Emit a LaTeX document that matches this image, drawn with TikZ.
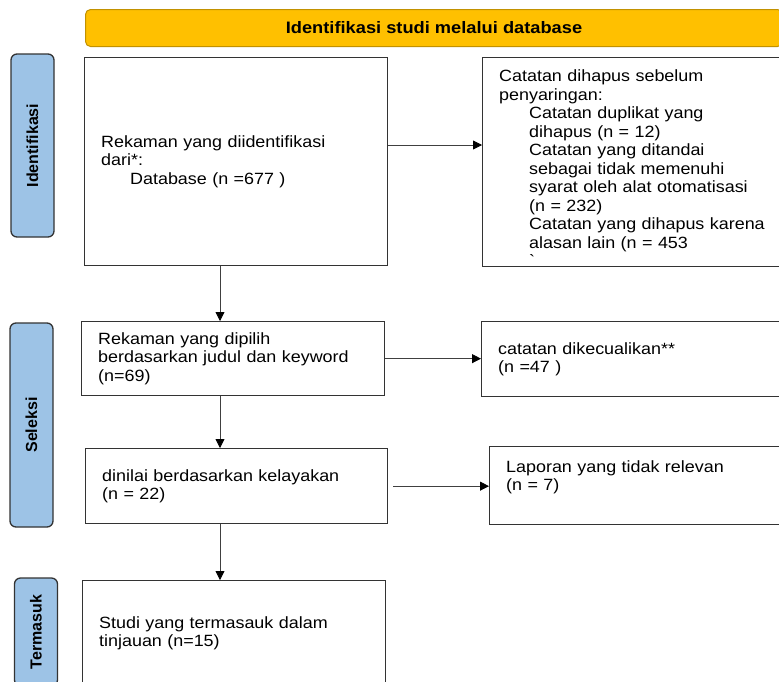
\documentclass[tikz,border=0pt]{standalone}
\usepackage{fontspec}
\setmainfont{Liberation Sans}[FakeStretch=1.1]
\newfontfamily\sidefont{Liberation Sans}
\usetikzlibrary{arrows.meta}
\definecolor{headgold}{HTML}{FFC000}
\definecolor{headedge}{HTML}{C29100}
\definecolor{sideblue}{HTML}{9DC3E6}
\definecolor{edgegray}{HTML}{333333}
\begin{document}
\begin{tikzpicture}[x=1pt,y=-1pt,
  box/.style={draw=edgegray,line width=1.3pt,anchor=north west,align=left,
    inner xsep=16.5pt,inner ysep=0pt,font=\fontsize{16.3}{18.5}\selectfont},
  side/.style={draw=edgegray,line width=1.3pt,fill=sideblue,rounded corners=6pt,
    rotate=90,minimum height=43pt,inner sep=0pt,
    font=\sidefont\bfseries\fontsize{16}{18}\selectfont},
  head/.style={draw=headedge,line width=1pt,fill=headgold,rounded corners=5pt,
    anchor=north west,minimum width=697pt,minimum height=37pt,
    font=\bfseries\fontsize{16.6}{19}\selectfont},
  arr/.style={-{Triangle[length=9pt,width=9pt,color=black]},line width=0.8pt,draw=black!75}]
\useasboundingbox (0,0) rectangle (779,681);
\clip (0,0) rectangle (779,681);
\coordinate (spine) at (220,0);
\coordinate (row1) at (0,145);
\node[head] (hdr) at (85,9) {Identifikasi studi melalui database};
\node[side,minimum width=183pt] (idn) at (32.5,145.5) {Identifikasi};
\node[side,minimum width=204pt] (sel) at (31.5,425) {Seleksi};
\node[side,minimum width=108pt] (tms) at (36,632) {Termasuk};
\node[box,minimum width=303pt,minimum height=208pt,text width=270pt] (found) at (84,57)
  {Rekaman yang diidentifikasi\\dari*:\\\hspace*{29pt}Database (n =677 )};
\node[box,minimum width=330pt,minimum height=208pt,text width=297pt,text height=24pt] (removed) at (482,57)
  {Catatan dihapus sebelum\\penyaringan:\\
   \hspace*{30pt}Catatan duplikat yang\\\hspace*{30pt}dihapus (n = 12)\\
   \hspace*{30pt}Catatan yang ditandai\\\hspace*{30pt}sebagai tidak memenuhi\\
   \hspace*{30pt}syarat oleh alat otomatisasi\\\hspace*{30pt}(n = 232)\\
   \hspace*{30pt}Catatan yang dihapus karena\\\hspace*{30pt}alasan lain (n = 453\\
   \hspace*{30pt}\textasciigrave};
\node[box,minimum width=303pt,minimum height=74pt,text width=270pt] (picked) at (81,321)
  {Rekaman yang dipilih\\berdasarkan judul dan keyword\\(n=69)};
\node[box,minimum width=330pt,minimum height=75pt,text width=297pt] (excl) at (481,321)
  {catatan dikecualikan**\\(n =47 )};
\node[box,minimum width=302pt,minimum height=75pt,text width=269pt] (rated) at (85,448)
  {dinilai berdasarkan kelayakan\\(n = 22)};
\node[box,minimum width=330pt,minimum height=78pt,text width=297pt,text depth=39pt] (irrel) at (489,446)
  {Laporan yang tidak relevan\\(n = 7)};
\node[box,minimum width=303pt,minimum height=105pt,text width=270pt] (incl) at (82,580)
  {Studi yang termasauk dalam\\tinjauan (n=15)};
\draw[arr] (found.east |- row1) -- (removed.west |- row1);
\draw[arr] (found.south -| spine) -- (picked.north -| spine);
\draw[arr] (picked.east) -- (picked.east -| excl.west);
\draw[arr] (picked.south -| spine) -- (rated.north -| spine);
\draw[arr] ([xshift=5pt]rated.east) -- (rated.east -| irrel.west);
\draw[arr] (rated.south -| spine) -- (incl.north -| spine);
\end{tikzpicture}
\end{document}
